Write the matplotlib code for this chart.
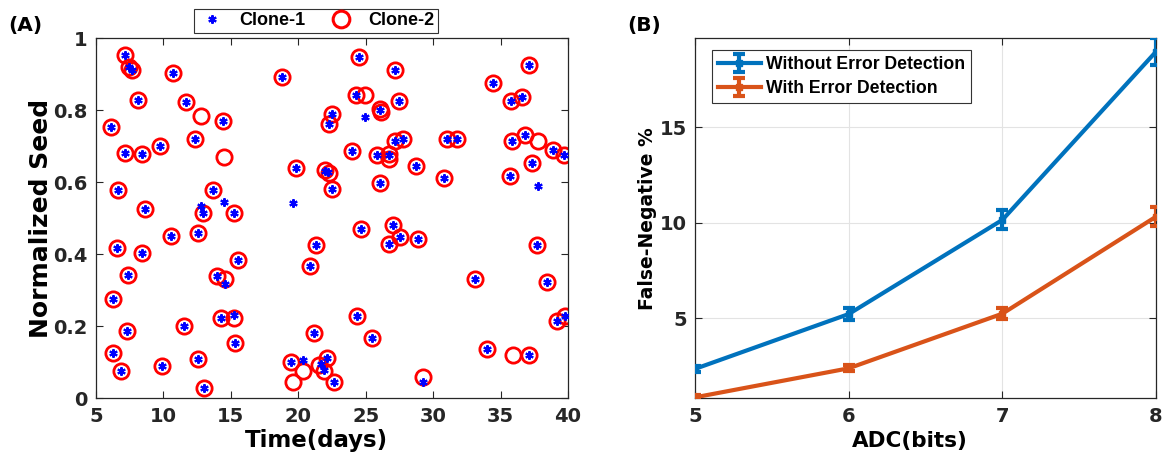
import matplotlib
matplotlib.use("Agg")
import matplotlib.pyplot as plt
from matplotlib.lines import Line2D

plt.rcParams['font.family'] = ['DejaVu Sans']
plt.rcParams['font.weight'] = 'bold'
LIB = ['Liberation Sans', 'DejaVu Sans']

# ---------------- Panel A data ----------------
clone1_days = [7.18, 7.45, 7.67, 10.69, 18.8, 8.09, 11.65, 14.42, 6.11, 12.37, 7.18, 8.44, 9.75, 19.84,
               22.5, 22.26, 22.5, 6.63, 8.66, 13.70, 12.96, 15.21,
               24.49, 27.18, 24.29, 27.48, 34.45, 37.14, 35.74, 36.58, 23.99, 25.87, 27.2, 27.75, 28.76,
               26.07, 31.06, 31.78, 30.82, 35.86, 36.80, 38.90, 39.74, 37.34, 35.71,
               10.59, 12.57, 6.53, 8.44, 15.56, 7.35, 13.95, 6.29, 11.50, 14.25, 7.33, 15.31, 6.24, 6.88,
               9.90, 12.54, 12.99, 21.30, 20.88, 21.17, 19.49, 22.16, 22.68,
               24.66, 27.03, 27.53, 26.69, 28.91, 37.69, 33.09, 38.43, 24.36, 25.47, 39.81, 39.22, 34.01, 37.10,
               22.0, 22.2, 26.07, 26.7, 14.57, 15.21, 21.65, 21.9, 29.23,
               12.79, 14.52, 19.59, 24.98, 37.81, 20.33]
clone1_seed = [0.955, 0.921, 0.911, 0.903, 0.893, 0.830, 0.822, 0.770, 0.754, 0.719, 0.682, 0.679, 0.701, 0.641,
               0.789, 0.763, 0.581, 0.580, 0.527, 0.580, 0.516, 0.516,
               0.949, 0.912, 0.843, 0.825, 0.877, 0.927, 0.826, 0.837, 0.686, 0.676, 0.714, 0.719, 0.645,
               0.597, 0.721, 0.719, 0.612, 0.715, 0.731, 0.689, 0.676, 0.654, 0.617,
               0.452, 0.458, 0.417, 0.404, 0.384, 0.343, 0.341, 0.276, 0.202, 0.224, 0.187, 0.154, 0.125, 0.076,
               0.090, 0.108, 0.029, 0.426, 0.367, 0.182, 0.102, 0.113, 0.046,
               0.469, 0.481, 0.448, 0.430, 0.443, 0.425, 0.331, 0.323, 0.229, 0.167, 0.230, 0.215, 0.138, 0.121,
               0.632, 0.628, 0.800, 0.675, 0.318, 0.231, 0.095, 0.080, 0.046,
               0.534, 0.546, 0.542, 0.782, 0.590, 0.106]

clone2_days = [7.18, 7.45, 7.67, 10.69, 18.8, 8.09, 11.65, 14.42, 6.11, 12.37, 7.18, 8.44, 9.75, 19.84,
               22.5, 22.26, 22.5, 6.63, 8.66, 13.70, 12.96, 15.21,
               24.49, 27.18, 24.29, 27.48, 34.45, 37.14, 35.74, 36.58, 23.99, 25.87, 27.2, 27.75, 28.76,
               26.07, 31.06, 31.78, 30.82, 35.86, 36.80, 38.90, 39.74, 37.34, 35.71,
               10.59, 12.57, 6.53, 8.44, 15.56, 7.35, 13.95, 6.29, 11.50, 14.25, 7.33, 15.31, 6.24, 6.88,
               9.90, 12.54, 12.99, 21.30, 20.88, 21.17, 19.49, 22.16, 22.68,
               24.66, 27.03, 27.53, 26.69, 28.91, 37.69, 33.09, 38.43, 24.36, 25.47, 39.81, 39.22, 34.01, 37.10,
               21.95, 22.25, 26.05, 26.1, 26.7, 26.75, 14.57, 15.21, 21.57, 21.91, 29.23,
               12.79, 14.52, 24.98, 37.79, 20.33, 19.59, 35.91]
clone2_seed = [0.955, 0.921, 0.911, 0.903, 0.893, 0.830, 0.822, 0.770, 0.754, 0.719, 0.682, 0.679, 0.701, 0.641,
               0.789, 0.763, 0.581, 0.580, 0.527, 0.580, 0.516, 0.516,
               0.949, 0.912, 0.843, 0.825, 0.877, 0.927, 0.826, 0.837, 0.686, 0.676, 0.714, 0.719, 0.645,
               0.597, 0.721, 0.719, 0.612, 0.715, 0.731, 0.689, 0.676, 0.654, 0.617,
               0.452, 0.458, 0.417, 0.404, 0.384, 0.343, 0.341, 0.276, 0.202, 0.224, 0.187, 0.154, 0.125, 0.076,
               0.090, 0.108, 0.029, 0.426, 0.367, 0.182, 0.102, 0.113, 0.046,
               0.469, 0.481, 0.448, 0.430, 0.443, 0.425, 0.331, 0.323, 0.229, 0.167, 0.230, 0.215, 0.138, 0.121,
               0.635, 0.625, 0.804, 0.794, 0.678, 0.665, 0.331, 0.222, 0.093, 0.077, 0.060,
               0.783, 0.670, 0.843, 0.715, 0.076, 0.046, 0.119]

# ---------------- Panel B data ----------------
adc_bits = [5, 6, 7, 8]
fn_without = [2.35, 5.22, 10.15, 18.96]
err_without = [0.15, 0.3, 0.5, 0.7]
fn_with = [0.86, 2.38, 5.24, 10.32]
err_with = [0.1, 0.15, 0.3, 0.5]

W, H = 1174, 457
fig = plt.figure(figsize=(W / 100, H / 100), dpi=100)

# ---------------- Panel A ----------------
axA = fig.add_axes([96 / W, 1 - 398.3 / H, (568 - 96) / W, (398.3 - 38.3) / H])
axA.plot(clone2_days, clone2_seed, linestyle='none', marker='o', markersize=11,
         markerfacecolor='none', markeredgecolor='#ff0000', markeredgewidth=2.0, zorder=2)
axA.plot(clone1_days, clone1_seed, linestyle='none', marker=(6, 2, 0), markersize=6,
         color='#0000ff', markeredgewidth=1.5, zorder=3)
axA.set_xlim(5, 40)
axA.set_ylim(0, 1)
axA.set_xticks([5, 10, 15, 20, 25, 30, 35, 40])
axA.set_yticks([0, 0.2, 0.4, 0.6, 0.8, 1])
axA.set_yticklabels(['0', '0.2', '0.4', '0.6', '0.8', '1'])
axA.set_xlabel('Time(days)', fontsize=16.5, fontweight='bold')
axA.set_ylabel('Normalized Seed', fontsize=18, fontweight='bold', labelpad=0)

handles = [Line2D([], [], linestyle='none', marker=(6, 2, 0), markersize=6, color='#0000ff', markeredgewidth=1.5),
           Line2D([], [], linestyle='none', marker='o', markersize=12, markerfacecolor='none',
                  markeredgecolor='#ff0000', markeredgewidth=2.2)]
legA = axA.legend(handles, ['Clone-1', 'Clone-2'], ncol=2, loc='lower center',
                  bbox_to_anchor=(0.466, 0.99), fancybox=False, edgecolor='#333333',
                  prop={'weight': 'bold', 'size': 13, 'family': LIB}, borderpad=0.2, handletextpad=0.7,
                  columnspacing=1.2, handlelength=1.6, framealpha=1)
legA.get_frame().set_linewidth(0.8)

# ---------------- Panel B ----------------
axB = fig.add_axes([695 / W, 1 - 398.3 / H, (1156 - 695) / W, (398.3 - 38.3) / H])
c_blue = (0, 0.447, 0.741)
c_orange = (0.85, 0.325, 0.098)
axB.errorbar(adc_bits, fn_without, yerr=err_without, color=c_blue, linewidth=3, elinewidth=3,
             capsize=4, capthick=3, marker='s', markersize=5, label='Without Error Detection', zorder=3)
axB.errorbar(adc_bits, fn_with, yerr=err_with, color=c_orange, linewidth=3, elinewidth=3,
             capsize=4, capthick=3, marker='s', markersize=5, label='With Error Detection', zorder=3)
axB.set_xlim(5, 8)
axB.set_ylim(0.81, 19.66)
axB.set_xticks([5, 6, 7, 8])
axB.set_yticks([5, 10, 15])
axB.grid(True, color='#e3e3e3', linewidth=0.8)
axB.set_axisbelow(True)
axB.set_xlabel('ADC(bits)', fontsize=15.5, fontweight='bold')
axB.set_ylabel('False-Negative %', fontsize=13.5, fontweight='bold', labelpad=2)
legB = axB.legend(loc='upper left', bbox_to_anchor=(0.037, 0.9675), fancybox=False, edgecolor='#333333',
                  prop={'weight': 'bold', 'size': 12.7, 'family': LIB}, borderpad=0.35, handletextpad=0.3,
                  handlelength=2.4, labelspacing=0.4, framealpha=1, borderaxespad=0)
legB.get_frame().set_linewidth(0.8)

for ax in (axA, axB):
    ax.tick_params(direction='in', top=True, right=True, length=5, width=0.8,
                   labelsize=14, colors='#262626', pad=6)
    for lab in ax.get_xticklabels() + ax.get_yticklabels():
        lab.set_fontweight('bold')
    for s in ax.spines.values():
        s.set_linewidth(0.9)
        s.set_color('#262626')
    # x-label centred slightly left of the axis middle, below the tick labels
    ax.xaxis.set_label_coords(0.466, -0.118)
    ax.xaxis.label.set_va('center')

fig.text(8 / W, 1 - 25 / H, '(A)', fontsize=14.5, fontweight='bold', va='center', ha='left')
fig.text(627 / W, 1 - 25 / H, '(B)', fontsize=14.5, fontweight='bold', va='center', ha='left')

fig.savefig('out.png', dpi=100)
